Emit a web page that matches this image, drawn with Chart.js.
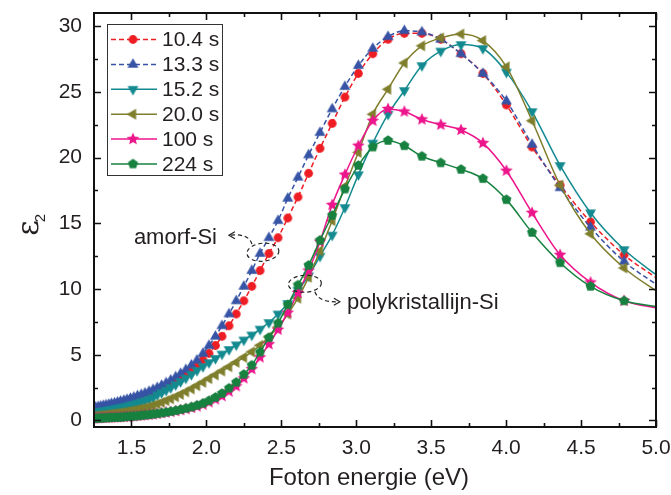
<!DOCTYPE html>
<html>
<head>
<meta charset="utf-8">
<script src="https://cdn.jsdelivr.net/npm/chart.js@4/dist/chart.umd.min.js"></script>
<style>
  html, body { margin: 0; padding: 0; background: #fff; }
  #wrap { width: 671px; height: 495px; }
</style>
</head>
<body>
<div id="wrap"><canvas id="chart" width="671" height="495"></canvas></div>
<script>
// photon energy grid (eV), shared by every series
const energy = [1.245,1.261,1.278,1.295,1.312,1.330,1.349,1.367,1.387,1.407,
  1.427,1.449,1.470,1.493,1.516,1.540,1.565,1.590,1.617,1.644,
  1.672,1.701,1.731,1.762,1.795,1.828,1.863,1.900,1.937,1.977,
  2.017,2.060,2.104,2.151,2.199,2.250,2.303,2.358,2.417,2.478,
  2.543,2.611,2.682,2.758,2.839,2.924,3.014,3.110,3.212,3.321,
  3.438,3.564,3.699,3.845,4.002,4.173,4.360,4.563,4.787,5.034];

const eps10_4 = [0.85,0.88,0.92,0.96,1.00,1.04,1.09,1.14,1.19,1.25,
  1.31,1.38,1.45,1.53,1.61,1.70,1.80,1.90,2.02,2.14,
  2.28,2.43,2.60,2.80,3.00,3.25,3.53,3.85,4.20,4.60,
  5.10,5.70,6.40,7.20,8.10,9.10,10.20,11.40,12.70,13.90,
  15.40,17.00,18.80,20.70,22.60,24.60,26.40,27.90,29.00,29.45,
  29.45,29.00,27.90,26.40,24.00,20.80,17.90,15.10,12.60,10.60];

const eps13_3 = [0.95,1.00,1.04,1.08,1.12,1.17,1.22,1.27,1.32,1.38,
  1.45,1.52,1.59,1.67,1.76,1.86,1.96,2.07,2.20,2.34,
  2.49,2.66,2.85,3.06,3.30,3.56,3.86,4.20,4.58,5.10,
  5.70,6.40,7.20,8.10,9.10,10.20,11.40,12.70,13.90,15.20,
  16.90,18.50,20.20,21.90,23.70,25.40,27.00,28.30,29.20,29.65,
  29.55,29.00,27.90,26.40,24.30,21.00,17.70,14.70,12.10,10.10];

const eps15_2 = [0.60,0.63,0.66,0.69,0.72,0.76,0.80,0.84,0.88,0.93,
  0.98,1.03,1.09,1.16,1.23,1.31,1.40,1.50,1.61,1.73,
  1.95,2.12,2.30,2.50,2.72,2.96,3.22,3.50,3.80,4.10,
  4.40,4.72,5.05,5.40,5.75,6.12,6.50,6.95,7.45,8.10,
  8.90,9.90,11.00,12.50,14.10,16.20,18.70,21.10,23.30,25.10,
  27.00,28.10,28.60,28.30,26.50,23.50,19.40,15.80,13.00,10.80];

const eps20_0 = [0.32,0.34,0.36,0.38,0.40,0.43,0.46,0.49,0.52,0.55,
  0.59,0.63,0.67,0.72,0.77,0.83,0.89,0.96,1.04,1.14,
  1.25,1.37,1.50,1.64,1.80,1.98,2.18,2.40,2.64,2.90,
  3.18,3.46,3.76,4.08,4.42,4.80,5.22,5.72,6.35,7.10,
  8.10,9.30,10.90,12.90,15.20,17.80,20.40,23.30,25.20,27.20,
  28.50,29.10,29.40,28.90,26.90,22.80,17.90,14.20,11.60,9.60];

const eps100 = [0.15,0.16,0.17,0.18,0.19,0.20,0.21,0.22,0.23,0.24,
  0.25,0.26,0.28,0.30,0.32,0.34,0.37,0.40,0.43,0.46,
  0.50,0.55,0.60,0.65,0.71,0.78,0.86,0.95,1.06,1.20,
  1.38,1.60,1.85,2.20,2.60,3.20,3.90,4.80,5.80,6.90,
  8.20,9.70,11.40,13.60,16.40,18.70,20.90,22.80,23.70,23.50,
  22.90,22.50,22.10,21.10,19.00,15.80,12.60,10.50,9.10,8.50];

const eps224 = [0.15,0.16,0.17,0.18,0.19,0.20,0.21,0.22,0.23,0.24,
  0.25,0.27,0.29,0.31,0.33,0.35,0.38,0.41,0.44,0.48,
  0.52,0.57,0.62,0.68,0.75,0.83,0.92,1.02,1.15,1.30,
  1.50,1.75,2.05,2.45,2.90,3.50,4.20,5.20,6.30,7.40,
  8.80,10.30,11.80,13.70,15.60,17.60,19.40,20.80,21.30,20.90,
  20.10,19.60,19.10,18.40,16.80,14.30,12.00,10.20,9.10,8.60];

const seriesLabels = ["10.4 s", "13.3 s", "15.2 s", "20.0 s", "100 s", "224 s"];
const xTicks = [1.5, 2.0, 2.5, 3.0, 3.5, 4.0, 4.5, 5.0];
const yTicks = [0, 5, 10, 15, 20, 25, 30];

const FONT = "'Liberation Sans', Arial, Helvetica, sans-serif";

// marker glyphs drawn once on small canvases, used by both the lines and the legend
function makeMarker(kind, color, r) {
  const size = Math.ceil(r * 2 + 2);
  const c = document.createElement("canvas");
  c.width = size; c.height = size;
  const g = c.getContext("2d");
  const cx = size / 2, cy = size / 2;
  g.fillStyle = color;
  g.beginPath();
  const poly = (n, start, rad, inner) => {
    const steps = inner ? n * 2 : n;
    for (let k = 0; k < steps; k++) {
      const a = start + k * 2 * Math.PI / steps;
      const rr = inner && k % 2 ? inner : rad;
      const px = cx + rr * Math.cos(a), py = cy + rr * Math.sin(a);
      k ? g.lineTo(px, py) : g.moveTo(px, py);
    }
    g.closePath();
  };
  if (kind === "circle") g.arc(cx, cy, r, 0, Math.PI * 2);
  else if (kind === "up") poly(3, -Math.PI / 2, r);
  else if (kind === "down") poly(3, Math.PI / 2, r);
  else if (kind === "left") poly(3, Math.PI, r);
  else if (kind === "star") poly(5, -Math.PI / 2, r, r * 0.45);
  else if (kind === "pentagon") poly(5, -Math.PI / 2, r);
  g.fill();
  return c;
}

const styles = [
  { color: "#ee1d23", kind: "circle", r: 4.4, dash: [5, 3] },
  { color: "#3653a5", kind: "up", r: 6.3, dash: [5, 3] },
  { color: "#138a8f", kind: "down", r: 6.3, dash: [] },
  { color: "#7e7e2c", kind: "left", r: 6.3, dash: [] },
  { color: "#ec158b", kind: "star", r: 6.6, dash: [] },
  { color: "#17813f", kind: "pentagon", r: 5.3, dash: [] }
];
const seriesValues = [eps10_4, eps13_3, eps15_2, eps20_0, eps100, eps224];
const markers = styles.map(s => makeMarker(s.kind, s.color, s.r));

const datasets = seriesValues.map((vals, i) => ({
  label: seriesLabels[i],
  data: energy.map((e, k) => ({ x: e, y: vals[k] })),
  borderColor: styles[i].color,
  backgroundColor: styles[i].color,
  borderWidth: 1.5,
  borderDash: styles[i].dash,
  pointStyle: markers[i],
  pointRadius: 5,
  cubicInterpolationMode: "monotone",
  order: 6 - i
}));

function arrowHead(ctx, x, y, dir) {
  ctx.beginPath();
  ctx.moveTo(x - dir * 6, y - 3.5);
  ctx.lineTo(x, y);
  ctx.lineTo(x - dir * 6, y + 3.5);
  ctx.stroke();
}

const decor = {
  id: "decor",
  afterDraw(chart) {
    const ctx = chart.ctx;
    const a = chart.chartArea;
    const xs = chart.scales.x, ys = chart.scales.y;
    ctx.save();
    ctx.strokeStyle = "#111";
    ctx.lineWidth = 2;
    ctx.strokeRect(a.left, a.top, a.right - a.left, a.bottom - a.top);

    // inward ticks on all four sides
    ctx.lineWidth = 1.6;
    ctx.beginPath();
    for (let v = 1.5; v <= 5.0001; v += 0.25) {
      const px = Math.round(xs.getPixelForValue(v)) + 0.5;
      const len = Math.abs(v * 2 - Math.round(v * 2)) < 1e-6 ? 7 : 4;
      ctx.moveTo(px, a.bottom); ctx.lineTo(px, a.bottom - len);
      ctx.moveTo(px, a.top); ctx.lineTo(px, a.top + len);
    }
    for (let v = 0; v <= 30.001; v += 2.5) {
      const py = Math.round(ys.getPixelForValue(v)) + 0.5;
      const len = v % 5 === 0 ? 7 : 4;
      ctx.moveTo(a.left, py); ctx.lineTo(a.left + len, py);
      ctx.moveTo(a.right, py); ctx.lineTo(a.right - len, py);
    }
    ctx.stroke();

    // legend
    const lx = 107.5, ly = 24.5, lw = 115, lh = 151;
    ctx.fillStyle = "#fff";
    ctx.fillRect(lx, ly, lw, lh);
    ctx.lineWidth = 1;
    ctx.strokeStyle = "#333";
    ctx.strokeRect(lx, ly, lw, lh);
    ctx.font = "21px " + FONT;
    ctx.textBaseline = "middle";
    ctx.textAlign = "left";
    seriesLabels.forEach((lab, i) => {
      const y = 39.5 + i * 24.9;
      ctx.strokeStyle = styles[i].color;
      ctx.lineWidth = 1.5;
      ctx.setLineDash(styles[i].dash);
      ctx.beginPath();
      ctx.moveTo(111, y); ctx.lineTo(157, y);
      ctx.stroke();
      ctx.setLineDash([]);
      const m = markers[i];
      ctx.drawImage(m, 133 - m.width / 2, y - m.height / 2);
      ctx.fillStyle = "#231f20";
      ctx.fillText(lab, 162, y + 1);
    });

    // annotations: dashed ellipses and curved arrows
    ctx.strokeStyle = "#222";
    ctx.lineWidth = 1.2;
    const e1x = xs.getPixelForValue(2.377), e1y = ys.getPixelForValue(12.8);
    const e2x = xs.getPixelForValue(2.657), e2y = ys.getPixelForValue(10.4);
    ctx.setLineDash([4, 3]);
    ctx.beginPath();
    ctx.ellipse(e1x, e1y, 16, 9, -0.1, 0, Math.PI * 2);
    ctx.stroke();
    ctx.beginPath();
    ctx.ellipse(e2x, e2y, 16.5, 8.5, -0.05, 0, Math.PI * 2);
    ctx.stroke();
    ctx.beginPath();
    ctx.moveTo(e1x - 11, e1y - 8);
    ctx.quadraticCurveTo(e1x - 14, e1y - 19, e1x - 33, e1y - 17);
    ctx.stroke();
    ctx.beginPath();
    ctx.moveTo(e2x + 10, e2y + 8);
    ctx.quadraticCurveTo(e2x + 14, e2y + 19, e2x + 34, e2y + 18);
    ctx.stroke();
    ctx.setLineDash([]);
    arrowHead(ctx, e1x - 34, e1y - 17, -1);
    arrowHead(ctx, e2x + 35, e2y + 18, 1);

    ctx.fillStyle = "#231f20";
    ctx.font = "22px " + FONT;
    ctx.textAlign = "right";
    ctx.fillText("amorf-Si", 217, 238);
    ctx.textAlign = "left";
    ctx.fillText("polykristallijn-Si", 347, 303);

    // axis titles
    ctx.font = "24px " + FONT;
    ctx.textAlign = "center";
    ctx.fillText("Foton energie (eV)", 369, 478);

    ctx.translate(30, 228);
    ctx.rotate(-Math.PI / 2);
    ctx.font = "30px 'DejaVu Serif', serif";
    ctx.fillText("\u03b5", 0, 0);
    ctx.font = "15px " + FONT;
    ctx.fillText("2", 10, 11);
    ctx.restore();
  }
};

new Chart(document.getElementById("chart"), {
  type: "line",
  data: { datasets },
  options: {
    responsive: false,
    animation: false,
    devicePixelRatio: 1,
    layout: { autoPadding: false, padding: { top: 13, right: 15, left: 0, bottom: 0 } },
    plugins: { legend: { display: false }, tooltip: { enabled: false } },
    scales: {
      x: {
        type: "linear",
        min: 1.25,
        max: 5.0,
        grid: { display: false, drawTicks: false },
        border: { display: false },
        afterBuildTicks: s => { s.ticks = xTicks.map(v => ({ value: v })); },
        afterFit: s => {
          s.height = 68;
          s.paddingLeft = 0; s.paddingRight = 0;
        },
        ticks: {
          autoSkip: false,
          maxRotation: 0,
          padding: 9,
          color: "#231f20",
          font: { size: 21, family: FONT },
          callback: v => Number(v).toFixed(1)
        }
      },
      y: {
        type: "linear",
        min: -0.5,
        max: 31,
        grid: { display: false, drawTicks: false },
        border: { display: false },
        afterBuildTicks: s => { s.ticks = yTicks.map(v => ({ value: v })); },
        afterFit: s => {
          s.width = 94;
          s.paddingTop = 0; s.paddingBottom = 0;
        },
        ticks: {
          autoSkip: false,
          padding: 12,
          color: "#231f20",
          font: { size: 21, family: FONT },
          callback: v => String(v)
        }
      }
    }
  },
  plugins: [decor]
});
</script>
</body>
</html>
